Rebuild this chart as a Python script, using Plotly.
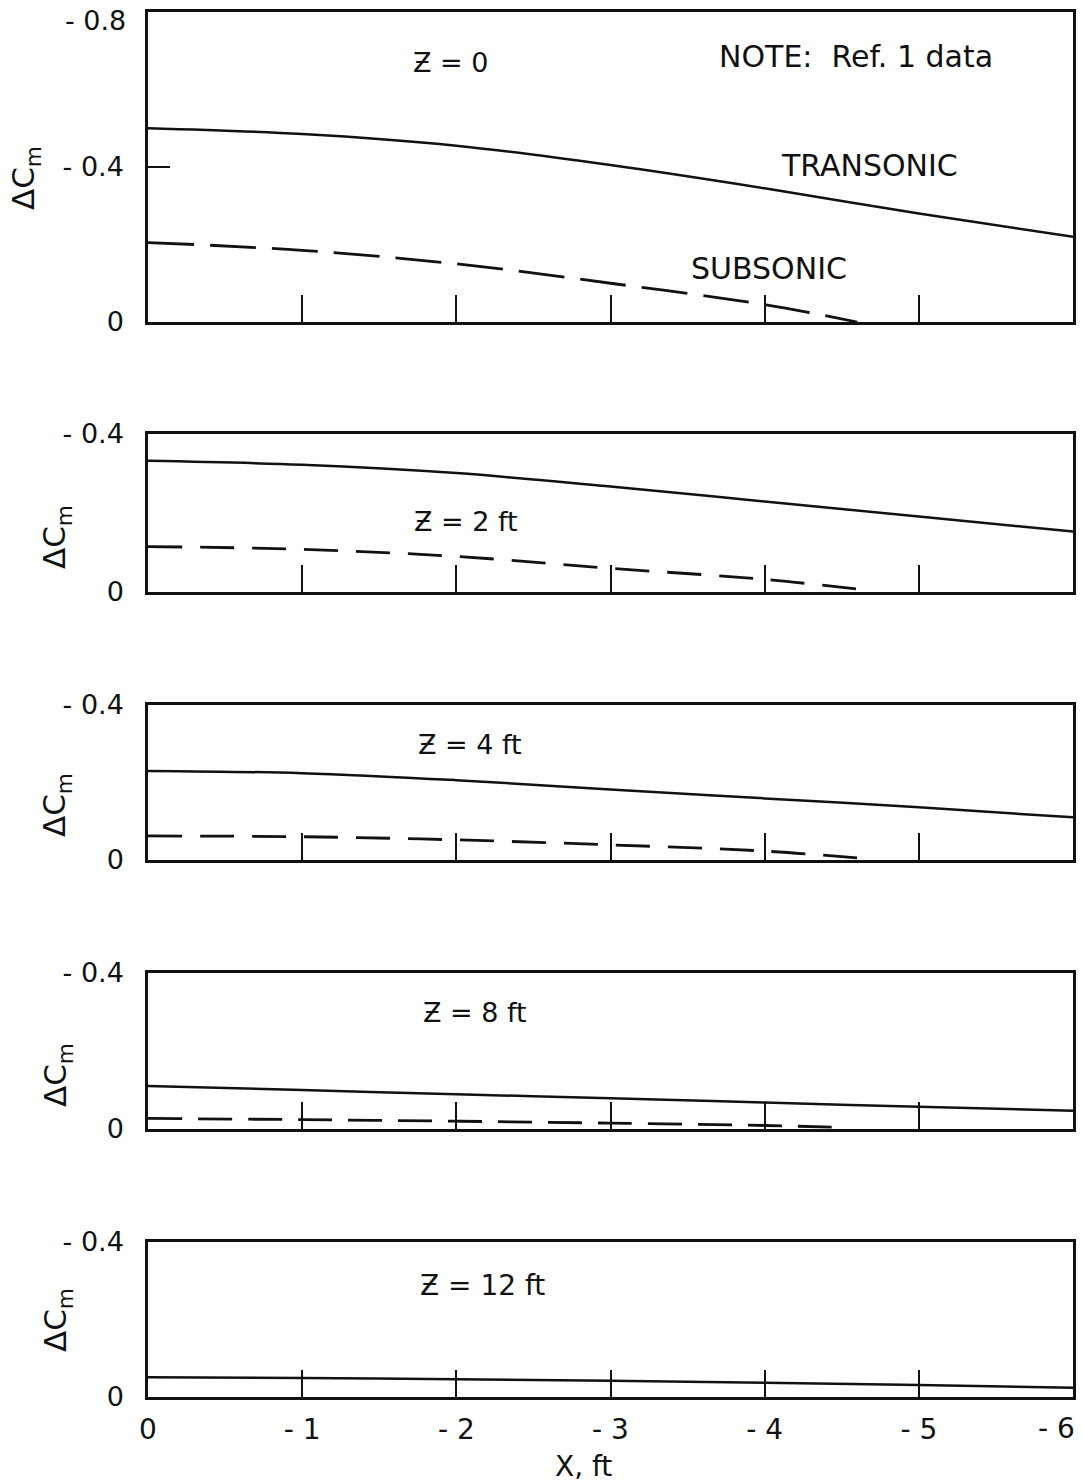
import plotly.graph_objects as go

# ---------------- data ----------------
x_pts = [0, -1, -2, -3, -4, -5, -6]
x_ticks = [0, -1, -2, -3, -4, -5, -6]
# last label is drawn separately (right-aligned at the frame edge, as in the original)
x_ticktext = ["0", "- 1", "- 2", "- 3", "- 4", "- 5", ""]
last_x_label = "- 6"

trans_z0 = [-0.50, -0.485, -0.455, -0.405, -0.345, -0.28, -0.22]
sub_x_z0 = [0, -1, -2, -3, -4, -4.6]
sub_z0 = [-0.205, -0.185, -0.15, -0.10, -0.045, 0.0]

trans_z2 = [-0.332, -0.322, -0.301, -0.267, -0.229, -0.191, -0.153]
sub_x_z2 = [0, -1, -2, -3, -4, -4.7]
sub_z2 = [-0.115, -0.108, -0.09, -0.06, -0.032, -0.003]

trans_z4 = [-0.23, -0.224, -0.206, -0.182, -0.159, -0.136, -0.110]
sub_x_z4 = [0, -1, -2, -3, -4, -4.7]
sub_z4 = [-0.062, -0.060, -0.052, -0.039, -0.023, -0.002]

trans_z8 = [-0.11, -0.10, -0.089, -0.079, -0.068, -0.057, -0.047]
sub_x_z8 = [0, -1, -2, -3, -4, -4.5]
sub_z8 = [-0.027, -0.024, -0.02, -0.015, -0.009, -0.004]

trans_z12 = [-0.051, -0.049, -0.046, -0.042, -0.037, -0.031, -0.024]

panel_labels = ["Ƶ = 0", "Ƶ = 2 ft", "Ƶ = 4 ft", "Ƶ = 8 ft", "Ƶ = 12 ft"]
y_ranges = [[0, -0.8], [0, -0.4], [0, -0.4], [0, -0.4], [0, -0.4]]
y_tickvals = [[0, -0.4, -0.8], [0, -0.4], [0, -0.4], [0, -0.4], [0, -0.4]]
# the top label of the first panel sits a little lower in the original, drawn separately below
y_ticktext = [["0", "- 0.4", ""], ["0", "- 0.4"], ["0", "- 0.4"], ["0", "- 0.4"], ["0", "- 0.4"]]
top_label_text = "- 0.8"

# ---------------- layout geometry ----------------
W, H = 1082, 1483
ML, MR, MT, MB = 148, 9, 12, 86
plot_h = H - MT - MB
plot_w = W - ML - MR
panel_px = [(12, 322), (434, 592), (705, 860), (973, 1129), (1242, 1397)]

def frac(py):
    return max(0.0, min(1.0, (H - MB - py) / plot_h))

def yfrac(py):
    return (H - MB - py) / plot_h

FONT = "DejaVu Sans"
BLACK = "#111111"

fig = go.Figure()

trans = [trans_z0, trans_z2, trans_z4, trans_z8, trans_z12]
subs = [(sub_x_z0, sub_z0), (sub_x_z2, sub_z2), (sub_x_z4, sub_z4), (sub_x_z8, sub_z8), None]
dashes = ["46px,16px", "34px,18px", "34px,18px", "34px,16px", None]

for i in range(5):
    xa = "x" if i == 0 else f"x{i+1}"
    ya = "y" if i == 0 else f"y{i+1}"
    fig.add_trace(go.Scatter(x=x_pts, y=trans[i], mode="lines", xaxis=xa, yaxis=ya,
                             line=dict(color=BLACK, width=2.5, shape="spline"),
                             showlegend=False, hoverinfo="skip"))
    if subs[i] is not None:
        sx, sy = subs[i]
        fig.add_trace(go.Scatter(x=sx, y=sy, mode="lines", xaxis=xa, yaxis=ya,
                                 line=dict(color=BLACK, width=2.8, dash=dashes[i], shape="spline"),
                                 showlegend=False, hoverinfo="skip"))

layout = dict(width=W, height=H, margin=dict(l=ML, r=MR, t=MT, b=MB, autoexpand=False),
              paper_bgcolor="white", plot_bgcolor="white", showlegend=False,
              font=dict(family=FONT, color=BLACK))

for i in range(5):
    top, bot = panel_px[i]
    xkey = "xaxis" if i == 0 else f"xaxis{i+1}"
    ykey = "yaxis" if i == 0 else f"yaxis{i+1}"
    xa = "x" if i == 0 else f"x{i+1}"
    ya = "y" if i == 0 else f"y{i+1}"
    layout[xkey] = dict(domain=[0, 1], anchor=ya, range=[0, -6], tickvals=x_ticks,
                        ticktext=x_ticktext, showticklabels=(i == 4), automargin=False,
                        ticklabeloverflow="allow",
                        ticks="inside", ticklen=27, tickwidth=2, tickcolor=BLACK,
                        showline=True, linewidth=2.5, linecolor=BLACK, mirror=True,
                        showgrid=False, zeroline=False, ticklabelstandoff=6,
                        tickfont=dict(size=28, family=FONT, color=BLACK))
    layout[ykey] = dict(domain=[frac(bot), frac(top)], anchor=xa, range=y_ranges[i],
                        tickvals=y_tickvals[i], ticktext=y_ticktext[i], automargin=False,
                        ticklabeloverflow="allow",
                        ticks="inside", ticklen=22, tickwidth=2, tickcolor=BLACK,
                        showline=True, linewidth=2.5, linecolor=BLACK, mirror=True,
                        showgrid=False, zeroline=False, ticklabelstandoff=16,
                        tickfont=dict(size=27, family=FONT, color=BLACK))

fig.update_layout(**layout)

# top tick label of first panel
fig.add_annotation(x=(128 - ML) / plot_w, y=frac(21), xref="paper", yref="paper",
                   text=top_label_text, showarrow=False, xanchor="right", yanchor="middle",
                   font=dict(size=27, family=FONT, color=BLACK))

# last x tick label, right-aligned inside the page
fig.add_annotation(x=(1077 - ML) / plot_w, y=yfrac(1428), xref="paper", yref="paper",
                   text=last_x_label, showarrow=False, xanchor="right", yanchor="middle",
                   font=dict(size=28, family=FONT, color=BLACK))

# panel labels
label_pos = [(-1.96, -0.67), (-2.06, -0.178), (-2.09, -0.297), (-2.12, -0.298), (-2.17, -0.287)]
label_size = [27, 27, 27, 27, 28]
for i in range(5):
    xa = "x" if i == 0 else f"x{i+1}"
    ya = "y" if i == 0 else f"y{i+1}"
    fig.add_annotation(x=label_pos[i][0], y=label_pos[i][1], xref=xa, yref=ya,
                       text=panel_labels[i], showarrow=False,
                       font=dict(size=label_size[i], family=FONT, color=BLACK))

fig.add_annotation(x=-4.59, y=-0.686, xref="x", yref="y", text="NOTE:  Ref. 1 data",
                   showarrow=False, font=dict(size=30, family=FONT, color=BLACK))
fig.add_annotation(x=-4.68, y=-0.403, xref="x", yref="y", text="TRANSONIC",
                   showarrow=False, font=dict(size=30, family=FONT, color=BLACK))
fig.add_annotation(x=-4.03, y=-0.139, xref="x", yref="y", text="SUBSONIC",
                   showarrow=False, font=dict(size=30, family=FONT, color=BLACK))

# y titles
ytitle_px = [(25, 178), (57, 537), (57, 805), (57, 1075), (57, 1320)]
for px, py in ytitle_px:
    fig.add_annotation(x=(px - ML) / plot_w, y=frac(py), xref="paper", yref="paper",
                       text="ΔC<sub>m</sub>", textangle=-90, showarrow=False,
                       xanchor="center", yanchor="middle",
                       font=dict(size=31, family=FONT, color=BLACK))

# x title
fig.add_annotation(x=(583 - ML) / plot_w, y=yfrac(1466),
                   xref="paper", yref="paper", text="X, ft", showarrow=False,
                   xanchor="center", yanchor="middle",
                   font=dict(size=28, family=FONT, color=BLACK))

fig.write_html("out.html", config={"displayModeBar": False},
               post_script="document.body.style.margin='0';document.body.style.overflow='hidden';")
